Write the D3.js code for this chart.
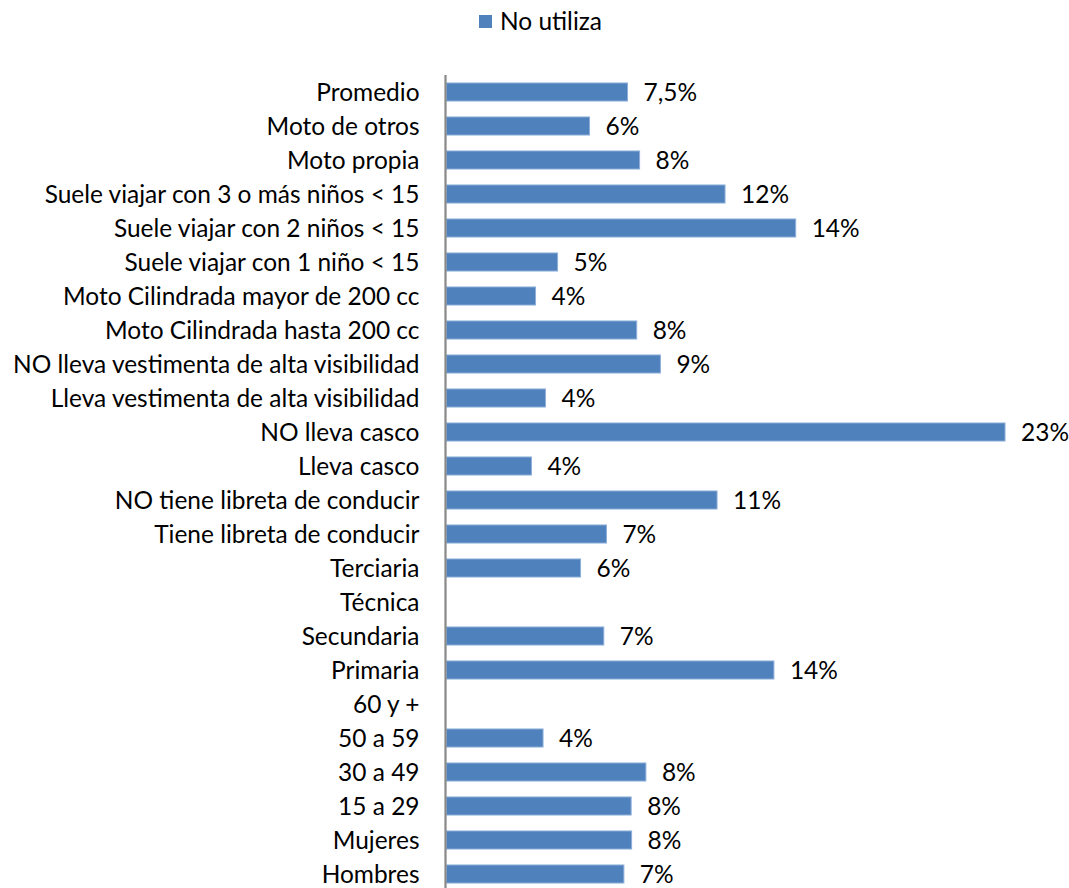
<!DOCTYPE html>
<html>
<head>
<meta charset="utf-8">
<script src="https://cdn.jsdelivr.net/npm/d3@7"></script>
<style>
  html, body { margin: 0; padding: 0; background: #fff; }
  svg { display: block; }
  text { font-family: Lato, "Open Sans", sans-serif; fill: #000; }
</style>
</head>
<body>
<svg id="chart" width="1069" height="888"></svg>
<script>
const categories = [
  "Promedio", "Moto de otros", "Moto propia",
  "Suele viajar con 3 o más niños < 15", "Suele viajar con 2 niños < 15", "Suele viajar con 1 niño < 15",
  "Moto Cilindrada mayor de 200 cc", "Moto Cilindrada hasta 200 cc",
  "NO lleva vestimenta de alta visibilidad", "Lleva vestimenta de alta visibilidad",
  "NO lleva casco", "Lleva casco",
  "NO tiene libreta de conducir", "Tiene libreta de conducir",
  "Terciaria", "Técnica", "Secundaria", "Primaria",
  "60 y +", "50 a 59", "30 a 49", "15 a 29",
  "Mujeres", "Hombres"
];
// "No utiliza" share, percent (null = no bar shown)
const noUtiliza = [
  7.5, 5.93, 8.0,
  11.53, 14.45, 4.61,
  3.7, 7.88,
  8.86, 4.11,
  23.1, 3.53,
  11.2, 6.63,
  5.56, null, 6.52, 13.55,
  null, 4.01, 8.26, 7.65,
  7.67, 7.35
];
const seriesName = "No utiliza";

const svg = d3.select("#chart");
const axisX = 446;
const plotTop = 75, step = 34;

// fit font size so the longest category label spans ~375px (Calibri-like look)
const probe = svg.append("text").attr("font-size", 20).text(categories[3]);
const w20 = probe.node().getComputedTextLength();
probe.remove();
const fs = Math.min(26, 20 * 375 / w20);

const x = d3.scaleLinear().domain([0, 25]).range([axisX, axisX + 25 * 24.2]);
const y = d3.scaleBand().domain(categories)
  .range([plotTop, plotTop + categories.length * step])
  .paddingInner(0.44).paddingOuter(0.22);

const data = categories.map((c, i) => ({ c, v: noUtiliza[i], i }));
const fmt = (d) => d.i === 0 ? d3.format(".1f")(d.v).replace(".", ",") + "%" : Math.round(d.v) + "%";

// bars
svg.append("g").selectAll("rect")
  .data(data.filter(d => d.v != null))
  .join("rect")
  .attr("x", x(0) + 0.5)
  .attr("y", d => y(d.c) + 0.5)
  .attr("width", d => x(d.v) - x(0) - 0.5)
  .attr("height", y.bandwidth() - 1)
  .attr("fill", "#4F81BD")
  .attr("stroke", "#8EAEDA")
  .attr("stroke-width", 1);

// value labels
svg.append("g").selectAll("text")
  .data(data.filter(d => d.v != null))
  .join("text")
  .attr("x", d => x(d.v) + 16)
  .attr("y", d => y(d.c) + y.bandwidth() / 2 + fs * 0.36)
  .attr("font-size", fs)
  .text(fmt);

// category axis
const yAxis = d3.axisLeft(y).tickSize(0).tickPadding(26);
const gAxis = svg.append("g").attr("transform", `translate(${axisX - 0.5},0)`).call(yAxis);
gAxis.select(".domain").attr("stroke", "#898989").attr("stroke-width", 2.2)
  .attr("d", `M0,${plotTop}V${plotTop + categories.length * step}`);
gAxis.selectAll(".tick text")
  .attr("font-size", fs)
  .attr("font-family", "Lato, 'Open Sans', sans-serif")
  .attr("fill", "#000")
  .attr("dy", null)
  .attr("y", fs * 0.36);

// legend
const lg = svg.append("g");
lg.append("rect").attr("x", 479).attr("y", 15).attr("width", 13).attr("height", 13).attr("fill", "#4F81BD");
lg.append("text").attr("x", 500).attr("y", 29.5).attr("font-size", fs).text(seriesName);
</script>
</body>
</html>
